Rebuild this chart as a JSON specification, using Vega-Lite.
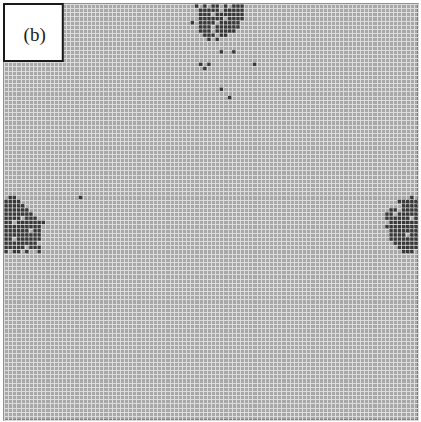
{
  "$schema": "https://vega.github.io/schema/vega-lite/v6.json",
  "width": 414,
  "height": 416,
  "autosize": "none",
  "padding": {"left": 4, "top": 4, "right": 3, "bottom": 2},
  "background": "white",
  "config": {"view": {"stroke": "#6e6e6e", "strokeWidth": 1.5, "fill": "#a8a8a8"}},
  "layer": [
    {
      "data": {"values": [
        {"r": 0, "c": [46, 48, 50, 51, 53, 55, 56, 57]},
        {"r": 1, "c": [47, 48, 49, 50, 51, 53, 54, 55, 56, 57]},
        {"r": 2, "c": [47, 48, 49, 51, 52, 53, 54, 55, 56, 57]},
        {"r": 3, "c": [47, 48, 49, 50, 51, 52, 54, 55, 56, 57]},
        {"r": 4, "c": [45, 47, 48, 49, 50, 52, 53, 54, 55, 56]},
        {"r": 5, "c": [47, 48, 49, 51, 52, 53, 54, 55, 56]},
        {"r": 6, "c": [47, 48, 49, 51, 52, 53, 54, 55]},
        {"r": 7, "c": [48, 49, 50, 52, 53]},
        {"r": 8, "c": [49, 51]},
        {"r": 11, "c": [52, 55]},
        {"r": 14, "c": [47, 49, 60]},
        {"r": 15, "c": [48]},
        {"r": 20, "c": [52]},
        {"r": 22, "c": [54]},
        {"r": 46, "c": [1, 2, 18, 98]},
        {"r": 47, "c": [0, 1, 2, 3, 95, 96, 97, 98, 99]},
        {"r": 48, "c": [0, 1, 2, 3, 4, 96, 97, 98, 99]},
        {"r": 49, "c": [0, 1, 2, 3, 4, 5, 93, 94, 96, 97, 98, 99]},
        {"r": 50, "c": [0, 1, 2, 3, 4, 5, 6, 92, 93, 95, 96, 97, 98, 99]},
        {"r": 51, "c": [0, 1, 2, 3, 5, 6, 7, 92, 93, 94, 95, 96, 97, 99]},
        {"r": 52, "c": [0, 1, 3, 4, 5, 6, 7, 8, 9, 93, 94, 95, 96, 97, 98, 99]},
        {"r": 53, "c": [0, 1, 2, 3, 4, 5, 6, 7, 8, 92, 93, 94, 95, 96, 97, 98, 99]},
        {"r": 54, "c": [0, 1, 2, 3, 4, 5, 7, 8, 93, 94, 95, 96, 97, 98, 99]},
        {"r": 55, "c": [0, 1, 2, 3, 4, 5, 6, 7, 8, 93, 94, 95, 96, 98, 99]},
        {"r": 56, "c": [0, 1, 3, 4, 5, 6, 7, 8, 93, 94, 95, 96, 97, 98, 99]},
        {"r": 57, "c": [0, 1, 2, 3, 4, 5, 6, 7, 94, 95, 96, 97, 98, 99]},
        {"r": 58, "c": [0, 1, 2, 3, 4, 6, 7, 8, 95, 96, 97, 98, 99]},
        {"r": 59, "c": [0, 2, 3, 5, 8, 96, 97, 98]}
      ]},
      "transform": [{"flatten": ["c"]}],
      "mark": {"type": "rect", "width": 3.3, "height": 3.3, "xOffset": 2.07, "yOffset": 2.08, "color": "#383838", "opacity": 1},
      "encoding": {
        "x": {"field": "c", "type": "quantitative", "scale": {"domain": [0, 100], "nice": false, "zero": false},
              "axis": {"grid": true, "tickCount": 100, "labels": false, "ticks": false, "domain": false, "title": null, "gridColor": "#dcdcdc", "gridWidth": 1, "gridOpacity": 1}},
        "y": {"field": "r", "type": "quantitative", "scale": {"domain": [0, 100], "nice": false, "zero": false, "reverse": true},
              "axis": {"grid": true, "tickCount": 100, "labels": false, "ticks": false, "domain": false, "title": null, "gridColor": "#dcdcdc", "gridWidth": 1, "gridOpacity": 1}}
      }
    },
    {
      "data": {"values": [{"x0": 0, "x1": 14.2, "y0": 0, "y1": 13.7, "label": "(b)", "xm": 7.4, "ym": 7.4}]},
      "layer": [
        {
          "mark": {"type": "rect", "fill": "white", "stroke": "#1a1a1a", "strokeWidth": 2},
          "encoding": {
            "x": {"field": "x0", "type": "quantitative"},
            "x2": {"field": "x1"},
            "y": {"field": "y0", "type": "quantitative"},
            "y2": {"field": "y1"}
          }
        },
        {
          "mark": {"type": "text", "font": "Liberation Serif", "fontSize": 19, "color": "#222", "align": "center", "baseline": "middle"},
          "encoding": {
            "x": {"field": "xm", "type": "quantitative"},
            "y": {"field": "ym", "type": "quantitative"},
            "text": {"field": "label"}
          }
        }
      ]
    }
  ]
}
